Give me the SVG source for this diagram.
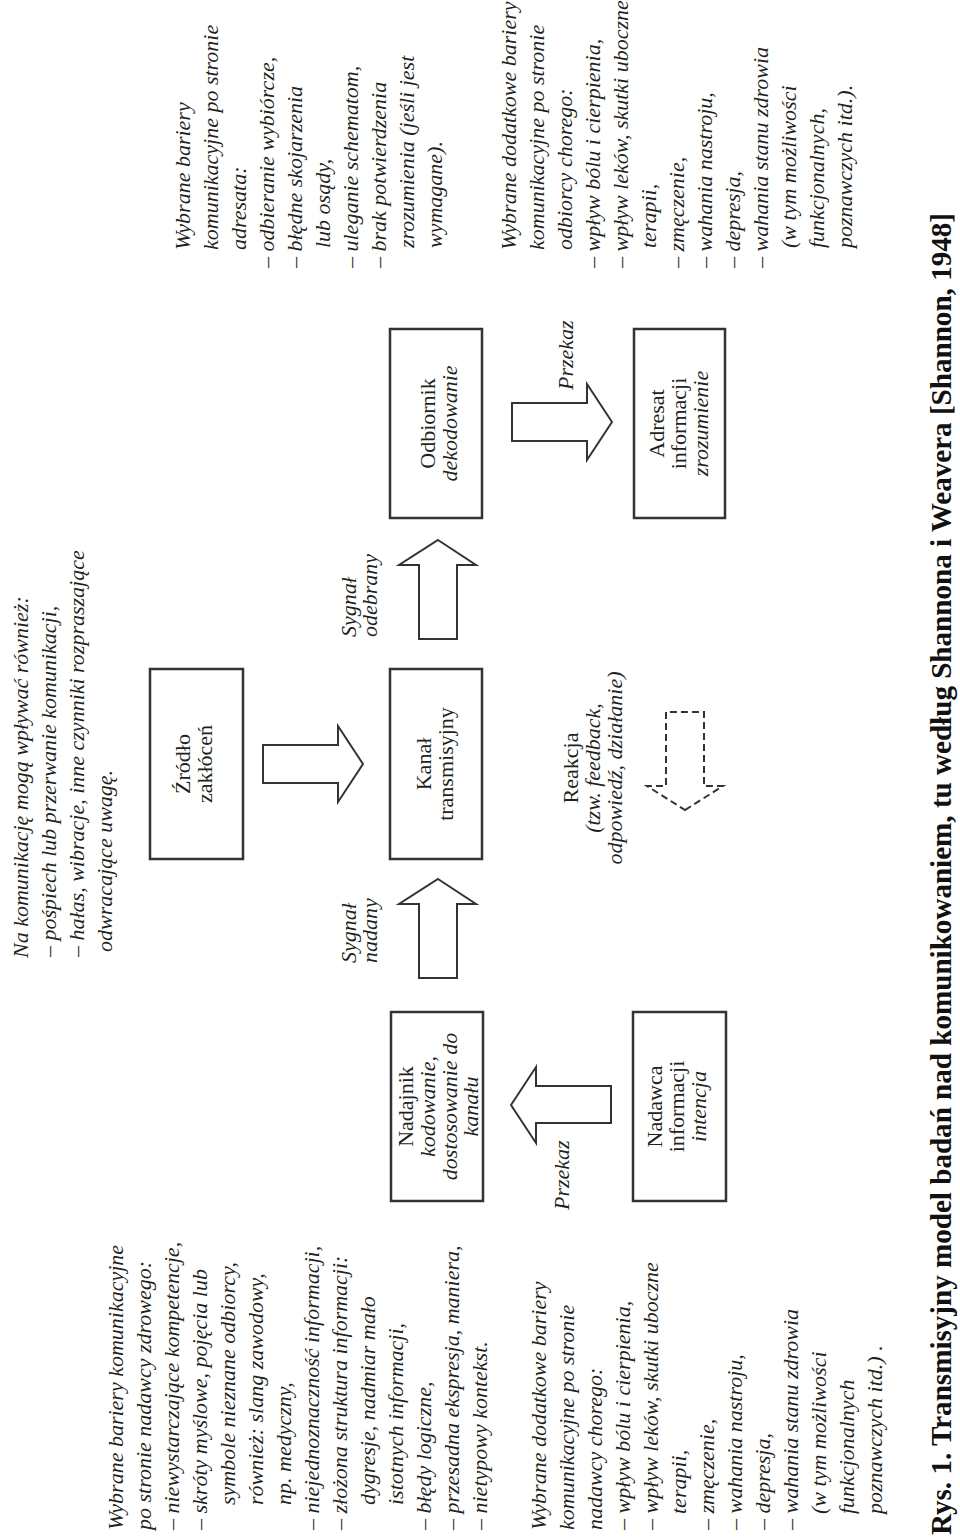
<svg xmlns="http://www.w3.org/2000/svg" width="960" height="1538" viewBox="0 0 960 1538">
<style>
.t{font-family:"Liberation Serif",serif;font-size:22px;font-style:italic;fill:#231f20}
.r{font-family:"Liberation Serif",serif;font-size:22px;fill:#231f20}
.c{text-anchor:middle}
.box{fill:#fff;stroke:#333;stroke-width:2.5}
.arr{fill:#fff;stroke:#333;stroke-width:2;stroke-linejoin:miter}
.dash{fill:#fff;stroke:#333;stroke-width:2;stroke-dasharray:7 4}
.title{font-family:"Liberation Serif",serif;font-size:29px;font-weight:bold;fill:#111}
</style>
<rect width="960" height="1538" fill="#fff"/>
<g transform="translate(0,1538) rotate(-90)">
  <g id="connectors">
    <polygon class="arr" points="433,511 471,536 452,536 452,611 415,611 415,536 395,536"/>
    <polygon class="arr" points="659,438 634,476 634,457 560,457 560,419 634,419 634,399"/>
    <polygon class="arr" points="998,438 973,476 973,457 899,457 899,419 973,419 973,399"/>
    <polygon class="arr" points="774,363 812,338 793,338 793,263 755,263 755,338 736,338"/>
    <polygon class="arr" points="1116,612 1154,587 1135,587 1135,512 1097,512 1097,587 1078,587"/>
    <polygon class="dash" points="728,685 752,723 752,704 826,704 826,666 752,666 752,647"/>
    <text class="t" x="328" y="569">Przekaz</text>
    <text class="t" x="1148" y="573">Przekaz</text>
    <text class="t" x="575" y="356">Sygnał</text>
    <text class="t" x="575" y="377">nadany</text>
    <text class="t" x="901" y="356">Sygnał</text>
    <text class="t" x="901" y="377">odebrany</text>
    <text class="r c" x="770" y="578">Reakcja</text>
    <text class="t c" x="770" y="600">(tzw. feedback,</text>
    <text class="t c" x="770" y="622">odpowiedź,  działanie)</text>
  </g>
  <g id="nadajnik">
    <rect class="box" x="337" y="391" width="189" height="92"/>
    <text class="r c" x="431.5" y="413">Nadajnik</text>
    <text class="t c" x="431.5" y="435">kodowanie,</text>
    <text class="t c" x="431.5" y="457">dostosowanie do</text>
    <text class="t c" x="431.5" y="478">kanału</text>
  </g>
  <g id="nadawca">
    <rect class="box" x="337" y="633" width="189" height="93"/>
    <text class="r c" x="431.5" y="662">Nadawca</text>
    <text class="r c" x="431.5" y="684">informacji</text>
    <text class="t c" x="431.5" y="706">intencja</text>
  </g>
  <g id="kanal">
    <rect class="box" x="679" y="390" width="190" height="92"/>
    <text class="r c" x="774" y="431">Kanał</text>
    <text class="r c" x="774" y="453">transmisyjny</text>
  </g>
  <g id="zrodlo">
    <rect class="box" x="679" y="150" width="190" height="93"/>
    <text class="r c" x="774" y="190">Źródło</text>
    <text class="r c" x="774" y="212">zakłóceń</text>
  </g>
  <g id="odbiornik">
    <rect class="box" x="1020" y="390" width="189" height="92"/>
    <text class="r c" x="1114.5" y="435">Odbiornik</text>
    <text class="t c" x="1114.5" y="457">dekodowanie</text>
  </g>
  <g id="adresat">
    <rect class="box" x="1020" y="634" width="189" height="91"/>
    <text class="r c" x="1114.5" y="664">Adresat</text>
    <text class="r c" x="1114.5" y="686">informacji</text>
    <text class="t c" x="1114.5" y="708">zrozumienie</text>
  </g>
  <g id="bariery-nadawcy">
    <text class="t" x="8" y="123">Wybrane bariery komunikacyjne</text>
    <text class="t" x="8" y="151">po stronie nadawcy zdrowego:</text>
    <text class="t" x="8" y="179">– niewystarczające kompetencje,</text>
    <text class="t" x="8" y="207">– skróty myślowe, pojęcia lub</text>
    <text class="t" x="33" y="235">symbole nieznane odbiorcy,</text>
    <text class="t" x="33" y="263">również: slang zawodowy,</text>
    <text class="t" x="33" y="291">np. medyczny,</text>
    <text class="t" x="8" y="319">– niejednoznaczność informacji,</text>
    <text class="t" x="8" y="347">– złożona struktura informacji:</text>
    <text class="t" x="33" y="375">dygresje, nadmiar mało</text>
    <text class="t" x="33" y="403">istotnych informacji,</text>
    <text class="t" x="8" y="431">– błędy logiczne,</text>
    <text class="t" x="8" y="459">– przesadna ekspresja, maniera,</text>
    <text class="t" x="8" y="487">– nietypowy kontekst.</text>
  </g>
  <g id="bariery-nadawcy-chorego">
    <text class="t" x="8" y="546">Wybrane dodatkowe bariery</text>
    <text class="t" x="8" y="574">komunikacyjne po stronie</text>
    <text class="t" x="8" y="602">nadawcy chorego:</text>
    <text class="t" x="8" y="630">– wpływ bólu i cierpienia,</text>
    <text class="t" x="8" y="658">– wpływ leków, skutki uboczne</text>
    <text class="t" x="24" y="686">terapii,</text>
    <text class="t" x="8" y="714">– zmęczenie,</text>
    <text class="t" x="8" y="742">– wahania nastroju,</text>
    <text class="t" x="8" y="770">– depresja,</text>
    <text class="t" x="8" y="798">– wahania stanu zdrowia</text>
    <text class="t" x="24" y="826">(w tym możliwości</text>
    <text class="t" x="24" y="854">funkcjonalnych</text>
    <text class="t" x="24" y="882">poznawczych itd.) .</text>
  </g>
  <g id="zaklocenia-opis">
    <text class="t" x="580" y="28">Na komunikację mogą wpływać również:</text>
    <text class="t" x="581" y="56">– pośpiech lub przerwanie komunikacji,</text>
    <text class="t" x="581" y="84">– hałas, wibracje, inne czynniki rozpraszające</text>
    <text class="t" x="586" y="112">odwracające uwagę.</text>
  </g>
  <g id="bariery-adresata">
    <text class="t" x="1288" y="190">Wybrane bariery</text>
    <text class="t" x="1288" y="218">komunikacyjne po stronie</text>
    <text class="t" x="1288" y="246">adresata:</text>
    <text class="t" x="1270" y="274">– odbieranie wybiórcze,</text>
    <text class="t" x="1270" y="302">– błędne skojarzenia</text>
    <text class="t" x="1290" y="330">lub osądy,</text>
    <text class="t" x="1270" y="358">– uleganie schematom,</text>
    <text class="t" x="1270" y="386">– brak potwierdzenia</text>
    <text class="t" x="1290" y="414">zrozumienia (jeśli jest</text>
    <text class="t" x="1290" y="442">wymagane).</text>
  </g>
  <g id="bariery-odbiorcy-chorego">
    <text class="t" x="1288" y="516">Wybrane dodatkowe bariery</text>
    <text class="t" x="1288" y="544">komunikacyjne po stronie</text>
    <text class="t" x="1288" y="572">odbiorcy chorego:</text>
    <text class="t" x="1270" y="600">– wpływ bólu i cierpienia,</text>
    <text class="t" x="1270" y="628">– wpływ leków, skutki uboczne</text>
    <text class="t" x="1290" y="656">terapii,</text>
    <text class="t" x="1270" y="684">– zmęczenie,</text>
    <text class="t" x="1270" y="712">– wahania nastroju,</text>
    <text class="t" x="1270" y="740">– depresja,</text>
    <text class="t" x="1270" y="768">– wahania stanu zdrowia</text>
    <text class="t" x="1290" y="796">(w tym możliwości</text>
    <text class="t" x="1290" y="824">funkcjonalnych,</text>
    <text class="t" x="1290" y="852">poznawczych itd.).</text>
  </g>
  <g id="title">
    <text class="title" x="3" y="951" textLength="1322" lengthAdjust="spacingAndGlyphs">Rys. 1. Transmisyjny model badań nad komunikowaniem, tu według Shannona i Weavera [Shannon, 1948]</text>
  </g>
</g>
</svg>
